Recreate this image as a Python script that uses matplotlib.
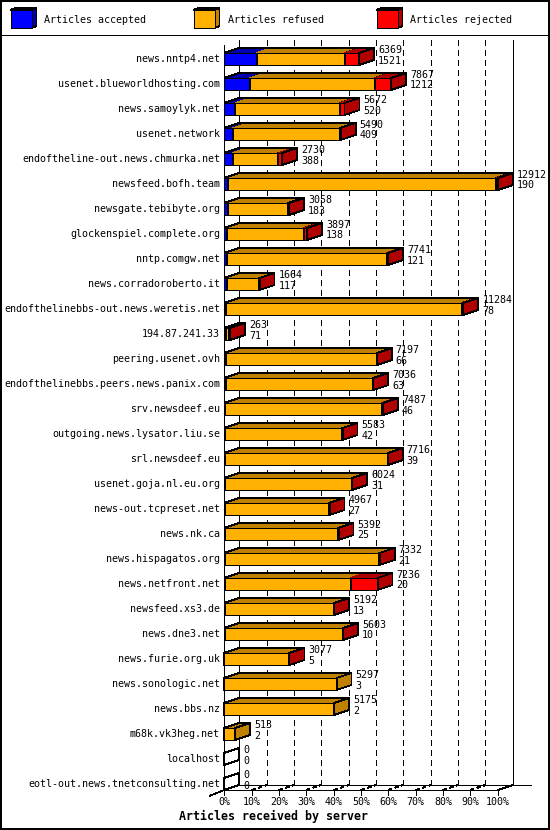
import matplotlib
matplotlib.use("Agg")
import matplotlib.pyplot as plt
from matplotlib.patches import Polygon, Rectangle
import numpy as np

# ---------------- data ----------------
hosts = [
    "news.nntp4.net", "usenet.blueworldhosting.com", "news.samoylyk.net",
    "usenet.network", "endoftheline-out.news.chmurka.net", "newsfeed.bofh.team",
    "newsgate.tebibyte.org", "glockenspiel.complete.org", "nntp.comgw.net",
    "news.corradoroberto.it", "endofthelinebbs-out.news.weretis.net", "194.87.241.33",
    "peering.usenet.ovh", "endofthelinebbs.peers.news.panix.com", "srv.newsdeef.eu",
    "outgoing.news.lysator.liu.se", "srl.newsdeef.eu", "usenet.goja.nl.eu.org",
    "news-out.tcpreset.net", "news.nk.ca", "news.hispagatos.org", "news.netfront.net",
    "newsfeed.xs3.de", "news.dne3.net", "news.furie.org.uk", "news.sonologic.net",
    "news.bbs.nz", "m68k.vk3heg.net", "localhost", "eotl-out.news.tnetconsulting.net",
]
accepted = [1521, 1212, 520, 409, 388, 190, 183, 138, 121, 117, 78, 71, 66, 63, 46,
            42, 39, 31, 27, 25, 21, 20, 13, 10, 5, 3, 2, 2, 0, 0]
refused = [4178, 5894, 4952, 5061, 2162, 12642, 2835, 3619, 7540, 1537, 11146, 132,
           7121, 6963, 7381, 5531, 7667, 5983, 4930, 5357, 7301, 5941, 5169, 5583,
           3062, 5294, 5173, 511, 0, 0]
rejected = [670, 761, 200, 20, 180, 80, 40, 140, 80, 10, 60, 60, 10, 10, 60, 10, 10,
            10, 10, 10, 10, 1275, 10, 10, 10, 0, 0, 0, 0, 0]
series_names = ["Articles accepted", "Articles refused", "Articles rejected"]
x_ticks = [0, 10, 20, 30, 40, 50, 60, 70, 80, 90, 100]
x_tick_labels = ["0%", "10%", "20%", "30%", "40%", "50%", "60%", "70%", "80%", "90%", "100%"]
x_title = "Articles received by server"

# ---------------- style ----------------
plt.rcParams["lines.antialiased"] = False
plt.rcParams["patch.antialiased"] = False
plt.rcParams["lines.scale_dashes"] = False
FONT = "DejaVu Sans Mono"
FS = 7.2
LW = 0.6
front_cols = ["#0000FF", "#FFB000", "#FF0000"]
dark_cols = ["#0000B0", "#C08000", "#B00000"]

W, H = 550, 830
fig = plt.figure(figsize=(W / 100, H / 100), dpi=100)
fig.patch.set_facecolor("white")

front_left, front_right = 224.3, 497.8
row0, row_step = 59.0, 25.0
plot_top, floor_px = 45.0, 790.0
depth_x, depth_y = 15.0, 5.0

ax = fig.add_axes([front_left / W, 1 - floor_px / H,
                   (front_right - front_left) / W, (floor_px - plot_top) / H])
y_top = (plot_top - row0) / row_step
y_bot = (floor_px - row0) / row_step
ax.set_xlim(0, 100)
ax.set_ylim(y_bot, y_top)
ax.axis("off")

px_x = 100.0 / (front_right - front_left)
px_y = 1.0 / row_step
dx = depth_x * px_x
dy = -depth_y * px_y
bar_h = 12 * px_y
back_top = y_top - 5 * px_y

acc = np.array(accepted, float)
ref = np.array(refused, float)
rej = np.array(rejected, float)
totals = acc + ref + rej
vmax = totals.max()

kw = dict(color="black", lw=LW, clip_on=False, solid_capstyle="butt")
dash = (0, (3.6, 2.9))

# back wall / grid
ax.plot([dx, dx], [back_top, y_bot + dy], zorder=1, **kw)
ax.plot([100 + dx, 100 + dx], [back_top, y_bot + dy], zorder=1, **kw)
for t in x_ticks[1:-1]:
    ax.plot([t + dx, t + dx], [back_top, y_bot + dy], color="black", lw=LW,
            ls=dash, clip_on=False, zorder=1)
    ax.plot([t, t + dx], [y_bot, y_bot + dy], color="black", lw=LW,
            ls=(0, (2.2, 2.2)), clip_on=False, zorder=1)
ax.plot([dx, 100 + dx + 18.5 * px_x], [y_bot + dy, y_bot + dy], zorder=1, **kw)
# front floor
ax.plot([0, 100], [y_bot, y_bot], zorder=1, **kw)
ax.plot([100, 100 + dx], [y_bot, y_bot + dy], zorder=1, **kw)
ax.plot([-dx, 0], [y_bot - 1.2 * dy, y_bot], zorder=1, **kw)
for t in x_ticks[1:]:
    ax.plot([t, t], [y_bot, y_bot + 5 * px_y], zorder=1, **kw)

# bars
ypos = np.arange(len(hosts))
for i in ypos:
    yt = i - bar_h / 2
    yb = i + bar_h / 2
    if totals[i] == 0:
        ax.add_patch(Polygon([(0, yt), (dx, yt + dy), (dx, yb + dy), (0, yb)],
                             closed=True, fill=False, edgecolor="black", lw=LW,
                             clip_on=False, zorder=3))
    else:
        x0 = 0.0
        for vals, fc, dc in zip([acc, ref, rej], front_cols, dark_cols):
            v = vals[i]
            if v <= 0:
                continue
            w = v / vmax * 100
            x1 = x0 + w
            ax.barh(i, w, left=x0, height=bar_h, color=fc, edgecolor="black",
                    lw=LW, clip_on=False, zorder=3)
            ax.add_patch(Polygon([(x0, yt), (x1, yt), (x1 + dx, yt + dy), (x0 + dx, yt + dy)],
                                 closed=True, facecolor=dc, edgecolor=dc, lw=0.3,
                                 clip_on=False, zorder=3))
            ax.add_patch(Polygon([(x1, yt), (x1 + dx, yt + dy), (x1 + dx, yb + dy), (x1, yb)],
                                 closed=True, facecolor=dc, edgecolor="black", lw=LW,
                                 clip_on=False, zorder=3))
            x0 = x1
        xe = totals[i] / vmax * 100
        ax.plot([0, dx, xe + dx, xe], [yt, yt + dy, yt + dy, yt], zorder=3.5, **kw)
        ax.barh(i, xe, left=0, height=bar_h, fill=False, edgecolor="black",
                lw=LW, clip_on=False, zorder=3.5)
    xe = totals[i] / vmax * 100
    ax.text(xe + dx + 4 * px_x, i - 9 * px_y, f"{int(totals[i])}", family=FONT,
            fontsize=FS, ha="left", va="center", zorder=5)
    ax.text(xe + dx + 4 * px_x, i + 1.5 * px_y, f"{int(acc[i])}", family=FONT,
            fontsize=FS, ha="left", va="center", zorder=5)
    ax.text(-4.3 * px_x, i, hosts[i], family=FONT, fontsize=FS, ha="right",
            va="center", zorder=5)

# front axis line
ax.plot([0, 0], [y_top, y_bot + 5 * px_y], zorder=4, **kw)

for t, lab in zip(x_ticks, x_tick_labels):
    ax.text(t, y_bot + 11.5 * px_y, lab, family=FONT, fontsize=FS, ha="center",
            va="center")

fig.text(273.6 / W, 1 - 816.7 / H, x_title, family=FONT, fontsize=8.4,
         fontweight="bold", ha="center", va="center")

# legend & frame (pixel overlay)
lg = fig.add_axes([0, 0, 1, 1])
lg.set_xlim(0, W)
lg.set_ylim(H, 0)
lg.axis("off")
for k, (name, fc, dc) in enumerate(zip(series_names, front_cols, dark_cols)):
    bx = 10.5 + 183.0 * k
    lg.add_patch(Polygon([(bx, 10), (bx + 21, 10), (bx + 26, 8), (bx + 5, 8)],
                         closed=True, facecolor=dc, edgecolor="black", lw=LW))
    lg.add_patch(Polygon([(bx + 21, 10), (bx + 26, 8), (bx + 26, 26), (bx + 21, 28)],
                         closed=True, facecolor=dc, edgecolor="black", lw=LW))
    lg.add_patch(Rectangle((bx, 10), 21, 18, facecolor=fc, edgecolor="black", lw=LW))
    lg.text(bx + 34, 20, name, family=FONT, fontsize=FS, ha="left", va="center")
lg.plot([0, W], [35.5, 35.5], color="black", lw=LW)
lg.add_patch(Rectangle((1, 1), W - 2, H - 2, fill=False, edgecolor="black", lw=1.4))

fig.savefig("out.png", dpi=100, facecolor="white")
